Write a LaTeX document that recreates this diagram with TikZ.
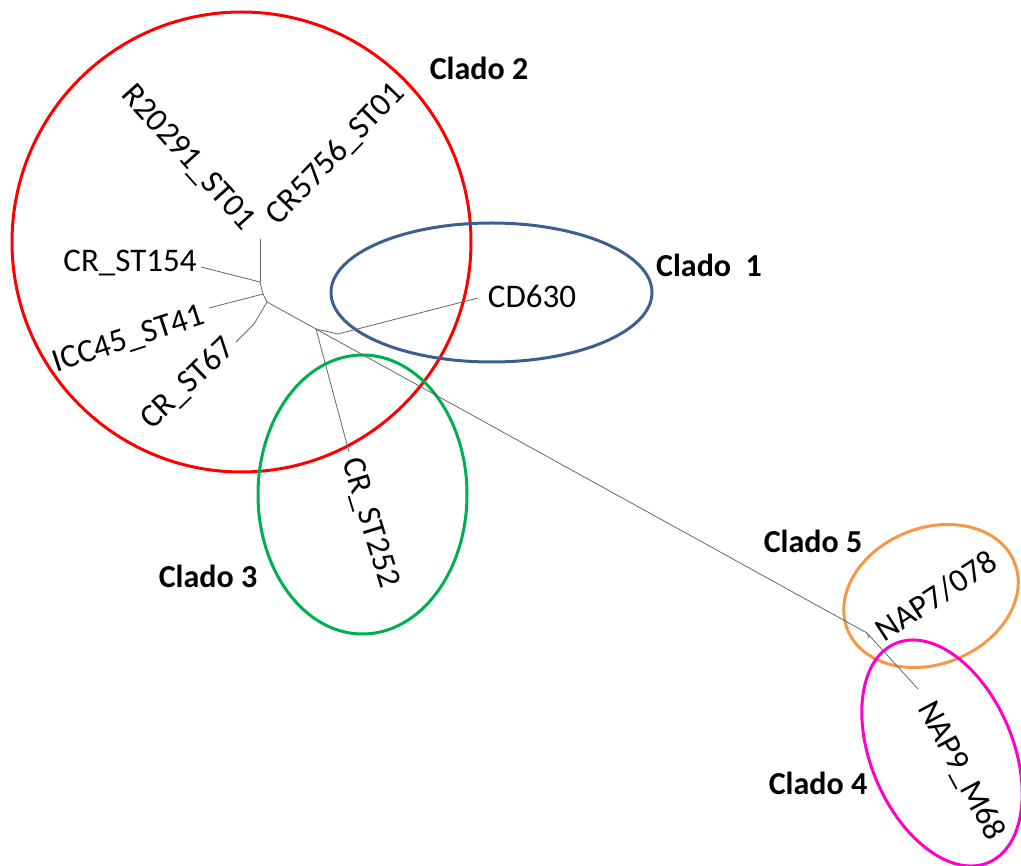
\documentclass[tikz,border=0pt]{standalone}
\usepackage{fontspec}
\setmainfont{Carlito}
\definecolor{cladered}{HTML}{FF0000}
\definecolor{cladeblue}{HTML}{3C5F8F}
\definecolor{cladegreen}{HTML}{00B050}
\definecolor{cladeorange}{HTML}{F79646}
\definecolor{clademagenta}{HTML}{FF00CC}
\begin{document}
\begin{tikzpicture}[x=1pt,y=-1pt,
  branch/.style={draw=black!60, line width=0.8pt},
  tip/.style={font=\fontsize{33}{40}\selectfont, inner sep=0pt},
  cladelabel/.style={font=\bfseries\fontsize{32}{38}\selectfont, inner sep=0pt},
  ring/.style={line width=3pt}]
\useasboundingbox (0,0) rectangle (1021,866);

% clade outlines
\draw[ring, cladered] (241.5,242) ellipse [x radius=229.5, y radius=230];
\draw[ring, cladeblue] (491.5,292.5) ellipse [x radius=160.5, y radius=69.5];
\draw[ring, cladegreen] (362.5,494.5) ellipse [x radius=104.5, y radius=139.5];
\draw[ring, cladeorange, rotate around={22:(931,596)}] (931,596) ellipse [x radius=90, y radius=68];
\draw[ring, clademagenta, rotate around={-67:(942,753)}] (942,753) ellipse [x radius=119, y radius=71];

% tree internal nodes
\coordinate (A) at (260,282);
\coordinate (B) at (263,294);
\coordinate (C) at (267,302);
\coordinate (D) at (316,329);
\coordinate (E) at (338,334);
\coordinate (F) at (867,633);
\coordinate (K) at (254,324);
% tips
\coordinate (tST01) at (260,239);
\coordinate (tST154) at (201,267);
\coordinate (tST41) at (209,308);
\coordinate (tST67) at (236,342);
\coordinate (tST252) at (349,452);
\coordinate (tCD) at (478,298);
\coordinate (tNAP7) at (869,638);
\coordinate (tNAP9) at (918,689);

\draw[branch] (A) -- (tST01);
\draw[branch] (A) -- (tST154);
\draw[branch] (A) -- (B);
\draw[branch] (B) -- (tST41);
\draw[branch] (B) -- (C);
\draw[branch] (C) -- (K) -- (tST67);
\draw[branch] (C) -- (D);
\draw[branch] (D) -- (tST252);
\draw[branch] (D) -- (E);
\draw[branch] (E) -- (tCD);
\draw[branch] (D) -- (F);
\draw[branch] (F) -- (tNAP7);
\draw[branch] (F) -- (tNAP9);

% tip labels
\node[tip, rotate=-48] (lR20291) at (188,158) {R20291\_ST01};
\node[tip, rotate=46] (lCR5756) at (336,154) {CR5756\_ST01};
\node[tip] (lST154) at (130,263) {CR\_ST154};
\node[tip, rotate=18] (lICC45) at (129,340) {ICC45\_ST41};
\node[tip, rotate=44] (lST67) at (188,384) {CR\_ST67};
\node[tip, rotate=-73] (lST252) at (370,523) {CR\_ST252};
\node[tip] (lCD630) at (532,296) {CD630};
\node[tip, rotate=33] (lNAP7) at (936,596) {NAP7/078};
\node[tip, rotate=-62] (lNAP9) at (961,771) {NAP9\_M68};

% clade labels
\node[cladelabel] (c2) at (479,68) {Clado 2};
\node[cladelabel] (c1) at (709,265) {Clado\ \ 1};
\node[cladelabel] (c5) at (813,541) {Clado 5};
\node[cladelabel] (c3) at (208,576) {Clado 3};
\node[cladelabel] (c4) at (818,783) {Clado 4};
\end{tikzpicture}
\end{document}
